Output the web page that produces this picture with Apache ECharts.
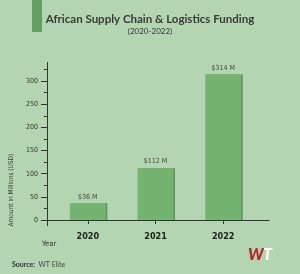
<!DOCTYPE html>
<html><head><meta charset="utf-8">
<script src="https://cdn.jsdelivr.net/npm/echarts@6/dist/echarts.min.js"></script>
<style>html,body{margin:0;padding:0;background:#b4d5b1;}#c{width:300px;height:274px;}</style>
</head><body><div id="c"></div>
<script>
var years = [2020, 2021, 2022];
var funding = [36, 112, 314];
var yLabelValues = [0, 50, 100, 150, 200, 250, 300];
var yMinorValues = [25, 75, 125, 175, 225, 275, 325];
var xLabelValues = [2020, 2021, 2022];

var cond = '"DejaVu Sans Condensed", "Liberation Sans Narrow", sans-serif';
var chart = echarts.init(document.getElementById('c'), null, {renderer: 'canvas'});
chart.setOption({
  backgroundColor: '#b4d5b1',
  animation: false,
  title: [{
    text: 'African Supply Chain & Logistics Funding',
    left: 'center', top: 8,
    textStyle: {fontFamily: 'Lato', fontWeight: 'bold', fontSize: 11.5, color: '#3a3a3a'}
  }, {
    text: '(2020-2022)',
    left: 'center', top: 22,
    textStyle: {fontFamily: 'Lato', fontWeight: 'normal', fontSize: 8, color: '#333'}
  }],
  graphic: [
    {type: 'rect', left: 32, top: 0, shape: {width: 10, height: 32}, style: {fill: '#62a05f'}},
    {type: 'text', left: 42, top: 240, style: {text: 'Year', font: '7.5px "DejaVu Sans Condensed"', fill: '#333'}},
    {type: 'text', left: 12, top: 259, style: {
      text: '{b|Source:} {n|WT Elite}',
      rich: {b: {fontFamily: 'Lato', fontWeight: 'bold', fontSize: 7, fill: '#333'},
             n: {fontFamily: 'Lato', fontSize: 7, fill: '#444'}}
    }},
    {type: 'text', left: 248, top: 247, style: {
      text: 'W', font: 'italic 900 16px Lato', fill: '#b8242c'
    }},
    {type: 'text', left: 263, top: 247, style: {
      text: 'T', font: 'italic 900 16px Lato', fill: '#ffffff'
    }}
  ],
  grid: {left: 41, right: 31, top: 62.5, bottom: 48.4, containLabel: false},
  xAxis: {
    type: 'value', min: 2019.396, max: 2022.676,
    splitLine: {show: false},
    axisLine: {onZero: true, lineStyle: {color: '#333', width: 1}},
    axisTick: {customValues: xLabelValues, length: 4, lineStyle: {color: '#333'}},
    axisLabel: {customValues: xLabelValues, formatter: function (v) { return String(v); },
      margin: 7, fontFamily: cond, fontWeight: 'bold', fontSize: 9, color: '#222'}
  },
  yAxis: [{
    type: 'value', min: -12, max: 340,
    name: 'Amount in Millions (USD)', nameLocation: 'middle', nameGap: 26, nameRotate: 90,
    nameTextStyle: {fontFamily: cond, fontSize: 6.5, color: '#333', padding: [0, 0, 0, -92]},
    splitLine: {show: false},
    axisLine: {show: true, onZero: false, lineStyle: {color: '#333', width: 1}},
    axisTick: {customValues: yLabelValues, length: 6, lineStyle: {color: '#333'}},
    axisLabel: {customValues: yLabelValues, margin: 9, fontFamily: cond, fontSize: 7, color: '#333'}
  }, {
    type: 'value', min: -12, max: 340, position: 'left', offset: 0,
    splitLine: {show: false},
    axisLine: {show: false},
    axisTick: {customValues: yMinorValues, length: 3, lineStyle: {color: '#333'}},
    axisLabel: {show: false}
  }],
  series: [{
    type: 'bar',
    data: years.map(function (y, i) { return [y, funding[i]]; }),
    barWidth: 36,
    itemStyle: {color: '#74b471', shadowColor: 'rgba(40,80,40,0.55)', shadowOffsetX: 1.5, shadowOffsetY: 0, shadowBlur: 0},
    label: {show: true, position: 'top', distance: 3,
      formatter: function (p) { return '$' + p.value[1] + ' M'; },
      fontFamily: cond, fontSize: 7, color: '#444'}
  }]
});
</script></body></html>
